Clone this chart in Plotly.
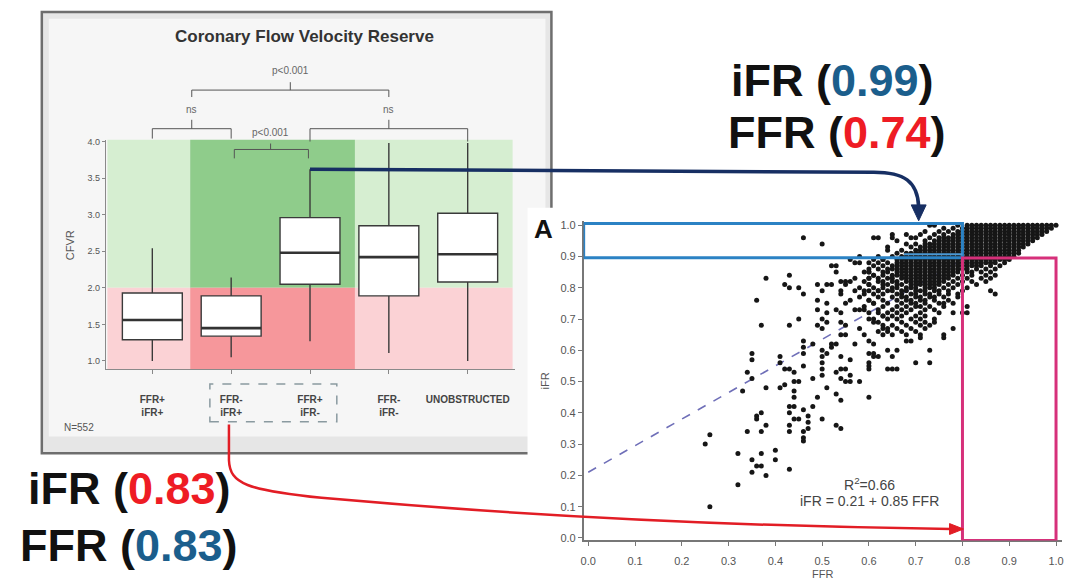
import plotly.graph_objects as go

W, H = 1066, 583
FONT = "Arial, Liberation Sans, sans-serif"

# ---------------- Coronary flow velocity reserve by group ----------------
groups = ["FFR+<br>iFR+", "FFR-<br>iFR+", "FFR+<br>iFR-", "FFR-<br>iFR-", "UNOBSTRUCTED"]
cfvr_lower = [1.00, 1.05, 1.27, 1.11, 1.00]
cfvr_q1 = [1.29, 1.34, 2.05, 1.89, 2.08]
cfvr_median = [1.56, 1.45, 2.48, 2.42, 2.46]
cfvr_q3 = [1.93, 1.89, 2.96, 2.85, 3.02]
cfvr_upper = [2.54, 2.14, 3.62, 3.98, 3.98]
cfvr_ticks = [1.0, 1.5, 2.0, 2.5, 3.0, 3.5, 4.0]
cfvr_tick_text = ["1.0", "1.5", "2.0", "2.5", "3.0", "3.5", "4.0"]
cfvr_cutoff = 2.0

# ---------------- iFR vs FFR scatter ----------------
fit_intercept = 0.21
fit_slope = 0.85
fit_r2 = 0.66
ffr_ticks = [0.0, 0.1, 0.2, 0.3, 0.4, 0.5, 0.6, 0.7, 0.8, 0.9, 1.0]
ffr_tick_text = ["0.0", "0.1", "0.2", "0.3", "0.4", "0.5", "0.6", "0.7", "0.8", "0.9", "1.0"]
ifr_ticks = [0.0, 0.1, 0.2, 0.3, 0.4, 0.5, 0.6, 0.7, 0.8, 0.9, 1.0]
ifr_tick_text = ["0.0", "0.1", "0.2", "0.3", "0.4", "0.5", "0.6", "0.7", "0.8", "0.9", "1.0"]

# scattered measurements (FFR, iFR)
low_pairs = [
    (0.25, 0.30), (0.26, 0.33), (0.26, 0.10), (0.32, 0.27), (0.32, 0.17), (0.34, 0.34),
    (0.35, 0.25), (0.35, 0.21), (0.36, 0.39), (0.36, 0.38), (0.37, 0.40), (0.37, 0.34),
    (0.37, 0.27), (0.36, 0.23), (0.37, 0.23), (0.38, 0.36), (0.38, 0.20), (0.40, 0.28),
    (0.40, 0.25), (0.43, 0.22), (0.43, 0.34), (0.43, 0.42), (0.43, 0.40), (0.44, 0.42),
    (0.44, 0.38), (0.45, 0.38), (0.43, 0.36), (0.46, 0.34), (0.46, 0.32), (0.46, 0.31),
    (0.46, 0.41), (0.47, 0.39), (0.47, 0.37), (0.47, 0.35), (0.48, 0.42), (0.50, 0.38),
    (0.53, 0.36), (0.54, 0.35), (0.54, 0.44),
]
mid_pairs = [
    (0.33, 0.47), (0.34, 0.53), (0.35, 0.59), (0.35, 0.57), (0.35, 0.51), (0.38, 0.48),
    (0.41, 0.58), (0.41, 0.56), (0.41, 0.48), (0.42, 0.49), (0.42, 0.54), (0.43, 0.54),
    (0.44, 0.53), (0.44, 0.47), (0.44, 0.45), (0.44, 0.50), (0.45, 0.50), (0.46, 0.63),
    (0.46, 0.61), (0.46, 0.59), (0.46, 0.55), (0.48, 0.51), (0.48, 0.62), (0.49, 0.45),
    (0.50, 0.60), (0.50, 0.58), (0.50, 0.56), (0.50, 0.54), (0.50, 0.52), (0.51, 0.59),
    (0.52, 0.61), (0.51, 0.48), (0.52, 0.62), (0.53, 0.62), (0.53, 0.46), (0.53, 0.53),
    (0.54, 0.54), (0.55, 0.54), (0.54, 0.51), (0.55, 0.50), (0.56, 0.50), (0.54, 0.58),
    (0.56, 0.57), (0.54, 0.65), (0.55, 0.65), (0.56, 0.52), (0.57, 0.62), (0.58, 0.50),
    (0.59, 0.65), (0.60, 0.59), (0.61, 0.59), (0.60, 0.56), (0.60, 0.55), (0.60, 0.45),
    (0.60, 0.54), (0.61, 0.58), (0.62, 0.58), (0.64, 0.54), (0.65, 0.54), (0.66, 0.54),
    (0.65, 0.58), (0.70, 0.56), (0.73, 0.56), (0.73, 0.60), (0.64, 0.60), (0.66, 0.60),
    (0.68, 0.63), (0.69, 0.63), (0.65, 0.65), (0.63, 0.67), (0.64, 0.66), (0.58, 0.67),
    (0.60, 0.63), (0.61, 0.62), (0.49, 0.68), (0.50, 0.67), (0.37, 0.68), (0.43, 0.68),
    (0.76, 0.65), (0.76, 0.64), (0.78, 0.67), (0.71, 0.64),
]
upper_pairs = [
    (0.36, 0.76), (0.38, 0.83), (0.42, 0.81), (0.43, 0.80), (0.43, 0.84), (0.45, 0.80),
    (0.46, 0.78), (0.45, 0.70), (0.49, 0.76), (0.49, 0.73), (0.49, 0.81), (0.50, 0.79),
    (0.51, 0.81), (0.52, 0.81), (0.51, 0.75), (0.51, 0.72), (0.50, 0.70), (0.51, 0.69),
    (0.52, 0.87), (0.53, 0.87), (0.53, 0.85), (0.54, 0.82), (0.55, 0.82), (0.55, 0.81),
    (0.54, 0.79), (0.54, 0.78), (0.53, 0.73), (0.54, 0.72), (0.54, 0.69), (0.55, 0.68),
    (0.55, 0.75), (0.56, 0.76), (0.56, 0.82), (0.57, 0.83), (0.56, 0.89), (0.57, 0.88),
    (0.57, 0.73), (0.58, 0.73), (0.59, 0.73), (0.59, 0.79), (0.60, 0.79), (0.59, 0.85),
    (0.60, 0.85), (0.61, 0.84), (0.60, 0.81), (0.60, 0.83), (0.60, 0.76), (0.61, 0.75),
    (0.60, 0.70), (0.61, 0.69), (0.62, 0.79), (0.62, 0.72), (0.63, 0.71), (0.61, 0.89),
    (0.58, 0.88), (0.58, 0.90), (0.60, 0.88), (0.60, 0.86), (0.62, 0.90), (0.73, 0.68),
    (0.74, 0.69), (0.80, 0.72), (0.81, 0.72), (0.81, 0.74), (0.78, 0.72), (0.78, 0.75),
    (0.87, 0.78), (0.86, 0.79),
]
top_pairs = [
    (0.46, 0.96), (0.50, 0.94), (0.61, 0.96), (0.62, 0.96), (0.65, 0.97), (0.65, 0.96),
    (0.66, 0.95), (0.68, 0.94), (0.68, 0.97), (0.69, 0.96), (0.70, 0.96), (0.71, 0.97),
    (0.73, 1.00), (0.64, 0.93), (0.64, 0.92), (0.63, 0.89),
]

# tightly packed measurements, one row per iFR level (hundredths): FFR values (hundredths)
grid_ifr = [100, 99, 98, 97, 96, 95, 94, 93, 92, 91, 90, 89, 88, 87, 86, 85, 84, 83,
            82, 81, 80, 79, 78, 77, 76, 75, 74, 73, 72, 71, 70, 69, 68, 67, 66, 65]
grid_ffr = [
    [74, 79, 81, 82, 83, 84, 85, 86, 87, 88, 89, 90, 91, 92, 93, 94, 95, 96, 97, 98, 99, 100],
    [76, 78, 80, 81, 82, 83, 84, 85, 86, 87, 88, 89, 90, 91, 92, 93, 94, 95, 96, 97, 98, 99],
    [72, 75, 77, 79, 80, 81, 82, 83, 84, 85, 86, 87, 88, 89, 90, 91, 92, 93, 94, 95, 96, 97, 98],
    [74, 76, 78, 79, 80, 81, 82, 83, 84, 85, 86, 87, 88, 89, 90, 91, 92, 93, 94, 95, 96, 97],
    [73, 75, 76, 77, 78, 79, 80, 81, 82, 83, 84, 85, 86, 87, 88, 89, 90, 91, 92, 93, 94, 95, 96],
    [72, 74, 75, 76, 77, 78, 79, 80, 81, 82, 83, 84, 85, 86, 87, 88, 89, 90, 91, 92, 93, 94, 95],
    [70, 72, 73, 74, 75, 76, 77, 78, 79, 80, 81, 82, 83, 84, 85, 86, 87, 88, 89, 90, 91, 92, 93, 94],
    [69, 71, 72, 73, 74, 75, 76, 77, 78, 79, 80, 81, 82, 83, 84, 85, 86, 87, 88, 89, 90, 91, 92, 93],
    [67, 70, 71, 72, 73, 74, 75, 76, 77, 78, 79, 80, 81, 82, 83, 84, 85, 86, 87, 88, 89, 90, 91, 92],
    [66, 68, 69, 70, 71, 72, 73, 74, 75, 76, 77, 78, 79, 80, 81, 82, 83, 84, 85, 86, 87, 88, 89, 90, 91, 92],
    [65, 67, 68, 69, 70, 71, 72, 73, 74, 75, 76, 77, 78, 79, 80, 81, 82, 83, 84, 85, 86, 87, 88, 89, 90, 91],
    [63, 66, 67, 68, 69, 70, 71, 72, 73, 74, 75, 76, 77, 78, 79, 80, 81, 82, 83, 84, 85, 86, 87, 88, 89, 90],
    [62, 64, 66, 67, 68, 69, 70, 71, 72, 73, 74, 75, 76, 77, 78, 79, 80, 81, 82, 83, 84, 85, 86, 87, 89],
    [61, 63, 65, 66, 67, 68, 69, 70, 71, 72, 73, 74, 75, 76, 77, 78, 79, 80, 81, 82, 83, 84, 86, 88],
    [62, 64, 65, 66, 67, 68, 69, 70, 71, 72, 73, 74, 75, 76, 77, 78, 79, 80, 81, 83, 85, 87],
    [60, 63, 64, 66, 67, 68, 69, 70, 71, 72, 73, 74, 75, 76, 77, 78, 79, 81, 82, 84, 86],
    [61, 63, 65, 66, 67, 68, 69, 70, 71, 72, 73, 74, 75, 76, 77, 78, 80, 82, 85, 87],
    [60, 62, 64, 65, 67, 68, 69, 70, 71, 72, 73, 74, 75, 76, 77, 79, 81, 84, 86],
    [59, 62, 63, 65, 66, 68, 69, 70, 71, 72, 73, 74, 75, 76, 78, 80, 82, 85],
    [60, 63, 64, 66, 67, 69, 70, 71, 72, 73, 74, 75, 77, 79, 83],
    [58, 61, 63, 65, 66, 68, 69, 70, 72, 73, 74, 76, 78, 81],
    [57, 62, 64, 65, 67, 68, 70, 71, 72, 74, 75, 77, 80],
    [59, 61, 63, 66, 67, 69, 70, 72, 73, 75, 77, 79],
    [58, 62, 65, 67, 68, 70, 71, 73, 74, 76, 79],
    [60, 63, 66, 68, 69, 71, 72, 74, 77],
    [61, 64, 67, 69, 70, 72, 75, 76],
    [59, 63, 66, 68, 70, 71, 73, 76],
    [62, 65, 67, 69, 72, 74],
    [60, 64, 66, 68, 71, 75],
    [63, 65, 67, 70, 72],
    [61, 64, 66, 69, 71, 74],
    [62, 67, 70, 72],
    [63, 65, 68, 71],
    [64, 66, 69, 72],
    [62, 67, 70],
    [63, 68, 71],
]
ffr_cut = 0.80
ifr_cut = 0.90

# ---------------- geometry helpers (pixel -> paper) ----------------
def pxx(x):
    return x / W


def pxy(y):
    return 1 - y / H


def P(x, y):
    return f"{pxx(x):.5f},{pxy(y):.5f}"


BOX_X_RANGE = [-0.59, 4.6]
BOX_X_DOM = [103.3 / W, 514.4 / W]
BOX_Y_RANGE = [0.888, 4.027]
BOX_Y_DOM = [1 - 370 / H, 1 - 138 / H]

SC_X_RANGE = [-0.0098, 1.0128]
SC_X_DOM = [583.4 / W, 1064 / W]
SC_Y_RANGE = [-0.0079, 1.0142]
SC_Y_DOM = [1 - 543 / H, 1 - 220 / H]


def box_x_px(v):
    f = (v - BOX_X_RANGE[0]) / (BOX_X_RANGE[1] - BOX_X_RANGE[0])
    return (BOX_X_DOM[0] + f * (BOX_X_DOM[1] - BOX_X_DOM[0])) * W


def box_y_px(v):
    f = (v - BOX_Y_RANGE[0]) / (BOX_Y_RANGE[1] - BOX_Y_RANGE[0])
    return (1 - (BOX_Y_DOM[0] + f * (BOX_Y_DOM[1] - BOX_Y_DOM[0]))) * H


def sc_x_px(v):
    f = (v - SC_X_RANGE[0]) / (SC_X_RANGE[1] - SC_X_RANGE[0])
    return (SC_X_DOM[0] + f * (SC_X_DOM[1] - SC_X_DOM[0])) * W


# ---------------- traces ----------------
fig = go.Figure()

n_groups = len(groups)
positions = list(range(n_groups))
box_width = 0.76

fig.add_trace(go.Box(
    x=positions, q1=cfvr_q1, median=cfvr_median, q3=cfvr_q3,
    lowerfence=cfvr_lower, upperfence=cfvr_upper,
    xaxis="x", yaxis="y", width=box_width, whiskerwidth=0,
    fillcolor="white", line=dict(color="#3a3a3a", width=1.4),
    boxpoints=False, hoverinfo="skip",
))

# heavier median bars
med_x, med_y = [], []
for i, m in zip(positions, cfvr_median):
    med_x += [i - box_width / 2, i + box_width / 2, None]
    med_y += [m, m, None]
fig.add_trace(go.Scatter(x=med_x, y=med_y, mode="lines", xaxis="x", yaxis="y",
                         line=dict(color="#333333", width=2.6), hoverinfo="skip"))

# regression line from the reported fit
fit_x = [0.0, ffr_cut]
fit_y = [fit_intercept + fit_slope * v for v in fit_x]
fig.add_trace(go.Scatter(x=fit_x, y=fit_y, mode="lines", xaxis="x2", yaxis="y2",
                         line=dict(color="#6f6fb8", width=1.6, dash="dash"), hoverinfo="skip"))

all_pairs = low_pairs + mid_pairs + upper_pairs + top_pairs
pts_ffr = [p[0] for p in all_pairs]
pts_ifr = [p[1] for p in all_pairs]
for level, row in zip(grid_ifr, grid_ffr):
    for f in row:
        pts_ffr.append(f / 100)
        pts_ifr.append(level / 100)

fig.add_trace(go.Scatter(x=pts_ffr, y=pts_ifr, mode="markers", xaxis="x2", yaxis="y2",
                         marker=dict(color="#161616", size=5, line=dict(width=0)),
                         hoverinfo="skip"))

# ---------------- shapes ----------------
shapes = []

# left panel frame
shapes.append(dict(type="rect", xref="paper", yref="paper", layer="below",
                   x0=pxx(39), x1=pxx(551), y0=pxy(455), y1=pxy(9),
                   fillcolor="#e6e6e6", line=dict(color="#6e6e6e", width=2.5)))
shapes.append(dict(type="rect", xref="paper", yref="paper", layer="below",
                   x0=pxx(46), x1=pxx(545), y0=pxy(438), y1=pxy(16),
                   fillcolor="#f6f6f6", line=dict(width=0)))
# white backdrop of the scatter panel
shapes.append(dict(type="rect", xref="paper", yref="paper", layer="below",
                   x0=pxx(527), x1=1, y0=0, y1=pxy(207),
                   fillcolor="white", line=dict(width=0)))

# coloured bands behind the boxes
band_edges = [-0.57, 0.48, 2.57, 4.57]
band_top = ["#d6eed1", "#8fcc8b", "#d6eed1"]
band_bottom = ["#fbd2d5", "#f6979b", "#fbd2d5"]
for k in range(3):
    shapes.append(dict(type="rect", xref="x", yref="y", layer="below",
                       x0=band_edges[k], x1=band_edges[k + 1], y0=cfvr_cutoff, y1=BOX_Y_RANGE[1],
                       fillcolor=band_top[k], line=dict(width=0)))
    shapes.append(dict(type="rect", xref="x", yref="y", layer="below",
                       x0=band_edges[k], x1=band_edges[k + 1], y0=BOX_Y_RANGE[0], y1=cfvr_cutoff,
                       fillcolor=band_bottom[k], line=dict(width=0)))

# significance brackets: (left, right, y, end y, centre, centre tick top)
brackets = [
    (0.5, 3.0, 88, 95, 1.75, 80),
    (0.0, 1.0, 127, 137, 0.5, 118),
    (2.0, 4.0, 127, 140, 3.0, 118),
    (1.04, 1.98, 148, 157, 1.5, 142),
]
for a, b, yb, ye, c, yt in brackets:
    xa, xb, xc = box_x_px(a), box_x_px(b), box_x_px(c)
    shapes.append(dict(type="path", xref="paper", yref="paper",
                       path=f"M{P(xa, ye)} L{P(xa, yb)} L{P(xb, yb)} L{P(xb, ye)}",
                       line=dict(color="#555555", width=1)))
    shapes.append(dict(type="line", xref="paper", yref="paper",
                       x0=pxx(xc), x1=pxx(xc), y0=pxy(yb), y1=pxy(yt),
                       line=dict(color="#555555", width=1)))

# dashed frame around the discordant group labels
shapes.append(dict(type="rect", xref="paper", yref="paper",
                   x0=pxx(box_x_px(0.73)), x1=pxx(box_x_px(2.34)), y0=pxy(423), y1=pxy(385),
                   line=dict(color="#8a9aa0", width=1.5, dash="dash")))

# discordance zones on the scatter
shapes.append(dict(type="rect", xref="x2", yref="y2",
                   x0=SC_X_RANGE[0], x1=ffr_cut, y0=ifr_cut - 0.004, y1=1.005,
                   line=dict(color="#2b82c4", width=3)))
shapes.append(dict(type="line", xref="x2", yref="y2",
                   x0=0.675, x1=ffr_cut, y0=0.907, y1=0.907,
                   line=dict(color="#4a98d4", width=2)))
shapes.append(dict(type="rect", xref="x2", yref="y2",
                   x0=ffr_cut, x1=1.0, y0=SC_Y_RANGE[0], y1=ifr_cut - 0.005,
                   line=dict(color="#d6307a", width=3)))

# navy connector: FFR+/iFR- group -> discordant upper-left zone
sx, sy = box_x_px(2), box_y_px(cfvr_upper[2])
navy = "#172f63"
shapes.append(dict(type="path", xref="paper", yref="paper",
                   path=f"M{P(sx, sy)} L{P(875, 171)} C{P(905, 171)} {P(919, 180)} {P(920, 206)}",
                   line=dict(color=navy, width=3.5)))
shapes.append(dict(type="path", xref="paper", yref="paper",
                   path=f"M{P(912.5, 204)} L{P(927.5, 204)} L{P(920, 220)} Z",
                   fillcolor=navy, line=dict(color=navy, width=1)))

# red connector: FFR-/iFR+ group -> discordant lower-right zone
red = "#e21d25"
shapes.append(dict(type="path", xref="paper", yref="paper",
                   path=(f"M{P(227, 426)} L{P(227, 462)} C{P(228, 486)} {P(245, 492)} {P(320, 500)} "
                         f"Q{P(620, 527)} {P(952, 531.5)}"),
                   line=dict(color=red, width=2.5)))
shapes.append(dict(type="path", xref="paper", yref="paper",
                   path=f"M{P(951, 526)} L{P(951, 537)} L{P(965, 531.5)} Z",
                   fillcolor=red, line=dict(color=red, width=1)))

# ---------------- text ----------------
ann = []


def text(x, y, s, size, color="#333333", xanchor="center", angle=0, bold=False):
    ann.append(dict(xref="paper", yref="paper", x=pxx(x), y=pxy(y), text=(f"<b>{s}</b>" if bold else s),
                    showarrow=False, xanchor=xanchor, yanchor="middle", textangle=angle,
                    font=dict(family=FONT, size=size, color=color)))


text(303, 34, "Coronary Flow Velocity Reserve", 17, "#333333", bold=True)
text(box_x_px(1.75), 68, "p&lt;0.001", 10, "#666666")
text(box_x_px(0.5), 108, "ns", 10, "#666666")
text(box_x_px(3.0), 108, "ns", 10, "#666666")
text(box_x_px(1.5), 131, "p&lt;0.001", 10, "#666666")
text(68, 245, "CFVR", 11, "#555555", angle=-90)
text(59, 429, "N=552", 10, "#555555", xanchor="left")

text(543, 228, "A", 26, "#111111", bold=True)
text(545, 382, "iFR", 11, "#555555", angle=-90)
text(sc_x_px(0.5), 577, "FFR", 11, "#555555")
text(871, 486, f"R<sup>2</sup>={fit_r2:.2f}", 14, "#444444")
text(871, 503, f"iFR = {fit_intercept:.2f} + {fit_slope:.2f} FFR", 14, "#444444")

blue_num = "#1b5e8c"
red_num = "#ee1c24"
text(833, 78, f"iFR (<span style='color:{blue_num}'>0.99</span>)", 45, "#111111", bold=True)
text(838, 131, f"FFR (<span style='color:{red_num}'>0.74</span>)", 45, "#111111", bold=True)
text(127, 491, f"iFR (<span style='color:{red_num}'>0.83</span>)", 45, "#111111", bold=True)
text(127, 548, f"FFR (<span style='color:{blue_num}'>0.83</span>)", 45, "#111111", bold=True)

# ---------------- layout ----------------
fig.update_layout(
    width=W, height=H,
    margin=dict(l=0, r=0, t=0, b=0),
    paper_bgcolor="white", plot_bgcolor="rgba(0,0,0,0)",
    showlegend=False,
    font=dict(family=FONT),
    shapes=shapes, annotations=ann,
    xaxis=dict(domain=BOX_X_DOM, range=BOX_X_RANGE, anchor="y",
               tickvals=positions, ticktext=[f"<b>{g}</b>" for g in groups],
               ticks="outside", ticklen=4, tickcolor="#888888",
               showline=True, linecolor="#8a8a8a", linewidth=1,
               showgrid=False, zeroline=False, ticklabelstandoff=17,
               tickfont=dict(family=FONT, size=10, color="#444444")),
    yaxis=dict(domain=BOX_Y_DOM, range=BOX_Y_RANGE, anchor="x",
               tickvals=cfvr_ticks, ticktext=cfvr_tick_text,
               ticks="outside", ticklen=3, tickcolor="#888888",
               showline=True, linecolor="#8a8a8a", linewidth=1,
               showgrid=False, zeroline=False,
               tickfont=dict(family=FONT, size=9, color="#555555")),
    xaxis2=dict(domain=SC_X_DOM, range=SC_X_RANGE, anchor="y2",
                tickvals=ffr_ticks, ticktext=ffr_tick_text,
                ticks="outside", ticklen=4, tickcolor="#777777",
                showline=True, linecolor="#777777", linewidth=1.5,
                showgrid=False, zeroline=False, ticklabelstandoff=6,
                tickfont=dict(family=FONT, size=11, color="#555555")),
    yaxis2=dict(domain=SC_Y_DOM, range=SC_Y_RANGE, anchor="x2",
                tickvals=ifr_ticks, ticktext=ifr_tick_text,
                ticks="outside", ticklen=4, tickcolor="#777777",
                showline=True, linecolor="#777777", linewidth=1.5,
                showgrid=False, zeroline=False,
                tickfont=dict(family=FONT, size=11, color="#555555")),
)

fig.write_html("out.html")
